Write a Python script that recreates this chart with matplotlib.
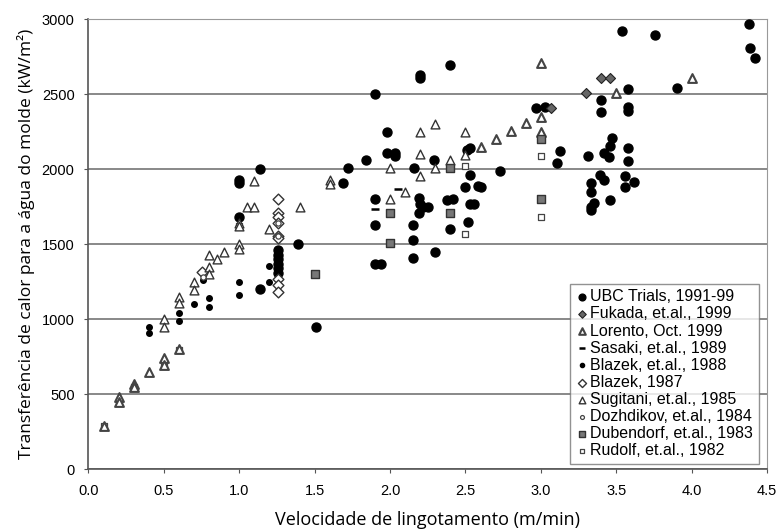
import matplotlib.pyplot as plt

# UBC Trials, 1991-99
ubc_x = [1.0, 1.0, 1.0, 1.14, 1.14, 1.39, 1.51, 1.69, 1.72, 1.84, 1.9, 1.9, 1.9, 1.9, 1.94,
         1.98, 1.98, 2.03, 2.03, 2.15, 2.15, 2.15, 2.16, 2.19, 2.2, 2.22, 2.25, 2.19, 2.2, 2.2,
         2.29, 2.3, 2.38, 2.42, 2.4, 2.4, 2.5, 2.51, 2.53, 2.53, 2.53, 2.56, 2.52, 2.58, 2.6,
         2.73, 2.97, 3.03, 3.11, 3.13, 3.31, 3.33, 3.33, 3.35, 3.33, 3.33, 3.39, 3.42, 3.4, 3.4,
         3.42, 3.45, 3.46, 3.47, 3.46, 3.54, 3.56, 3.56, 3.58, 3.58, 3.58, 3.58, 3.58, 3.62,
         3.76, 3.9, 4.38, 4.39, 4.42,
         1.26, 1.26, 1.26, 1.26, 1.26, 1.26]
ubc_y = [1925, 1905, 1680, 2000, 1200, 1500, 950, 1905, 2005, 2060, 2500, 1800, 1625, 1365, 1370,
         2250, 2105, 2105, 2090, 1625, 1530, 1410, 2010, 1805, 1770, 1750, 1750, 1710, 2630, 2610,
         2060, 1445, 1795, 1800, 1600, 2695, 1880, 2130, 2140, 1960, 1770, 1770, 1645, 1885, 1880,
         1985, 2405, 2415, 2040, 2120, 2090, 1910, 1850, 1775, 1750, 1725, 1960, 1925, 2460, 2380,
         2110, 2080, 2155, 2205, 1795, 2920, 1955, 1880, 2535, 2415, 2390, 2140, 2055, 1915,
         2895, 2540, 2965, 2810, 2740,
         1460, 1430, 1400, 1370, 1340, 1310]

fukada_x = [3.07, 3.3, 3.4, 3.46]
fukada_y = [2410, 2510, 2610, 2610]

lorento_x = [0.1, 0.2, 0.2, 0.3, 0.3, 0.4, 0.5, 0.5, 0.6, 2.6, 2.7, 2.8, 2.9, 3.0, 3.0, 3.0, 3.5, 4.0]
lorento_y = [290, 480, 445, 570, 545, 645, 740, 695, 800, 2145, 2200, 2255, 2310, 2350, 2250, 2710, 2505, 2605]

sasaki_x = [1.9, 2.05]
sasaki_y = [1735, 1870]

blazek88_x = [0.4, 0.4, 0.6, 0.6, 0.7, 0.8, 0.8, 1.0, 1.0, 1.2, 1.2, 0.76]
blazek88_y = [945, 910, 1040, 990, 1100, 1140, 1080, 1250, 1160, 1355, 1250, 1260]

blazek87_x = [0.75, 1.26, 1.26, 1.26, 1.26, 1.26, 1.26, 1.26, 1.26, 1.26]
blazek87_y = [1315, 1800, 1710, 1680, 1640, 1555, 1540, 1270, 1230, 1180]

sugitani_x = [1.1, 1.05, 1.1, 1.2, 1.4, 1.0, 1.0, 1.0, 1.0, 0.9, 0.8, 0.85, 0.8, 0.8, 0.7, 0.7,
              0.6, 0.6, 0.5, 0.5, 1.6, 1.6, 2.0, 2.0, 2.1, 2.2, 2.2, 2.2, 2.3, 2.3, 2.4, 2.5, 2.5]
sugitani_y = [1920, 1745, 1750, 1600, 1750, 1640, 1620, 1500, 1465, 1450, 1430, 1400, 1350, 1300, 1250, 1195,
              1150, 1105, 1000, 950, 1925, 1900, 2005, 1800, 1850, 2250, 2100, 1955, 2300, 2005, 2060, 2250, 2095]

dozhdikov_x = [0.76, 1.26, 1.26]
dozhdikov_y = [1280, 1555, 1640]

dubendorf_x = [1.5, 2.0, 2.0, 2.4, 2.4, 3.0, 3.0]
dubendorf_y = [1300, 1705, 1505, 1705, 2010, 2200, 1800]

rudolf_x = [3.0, 3.0, 2.5, 2.5, 0.1, 0.2, 0.3, 0.5, 0.6, 1.0, 1.6]
rudolf_y = [2089, 1682, 2020, 1570, 285, 450, 550, 700, 795, 1620, 1900]

plt.rcParams['font.family'] = ['Liberation Sans', 'DejaVu Sans']

fig = plt.figure(figsize=(7.79, 5.30), dpi=100)
ax = fig.add_axes([0.1136, 0.115, 0.871, 0.849])

ax.scatter(ubc_x, ubc_y, s=42, marker='o', color='black', zorder=3, label='UBC Trials, 1991-99')
ax.scatter(fukada_x, fukada_y, s=26, marker='D', facecolor='#666666', edgecolor='#222222',
           linewidth=0.8, zorder=3, label='Fukada, et.al., 1999')
ax.scatter(lorento_x, lorento_y, s=40, marker='^', facecolor='white', edgecolor='#444444',
           linewidth=1.5, zorder=3, label='Lorento, Oct. 1999')
ax.scatter(sasaki_x, sasaki_y, s=30, marker='_', color='black', linewidth=1.8, zorder=3,
           label='Sasaki, et.al., 1989')
ax.scatter(blazek88_x, blazek88_y, s=16, marker='o', color='black', zorder=3, label='Blazek, et.al., 1988')
ax.scatter(blazek87_x, blazek87_y, s=30, marker='D', facecolor='white', edgecolor='#333333',
           linewidth=1.0, zorder=3, label='Blazek, 1987')
ax.scatter(sugitani_x, sugitani_y, s=40, marker='^', facecolor='white', edgecolor='#333333',
           linewidth=1.0, zorder=3, label='Sugitani, et.al., 1985')
ax.scatter(dozhdikov_x, dozhdikov_y, s=14, marker='o', facecolor='white', edgecolor='#444444',
           linewidth=0.9, zorder=3, label='Dozhdikov, et.al., 1984')
ax.scatter(dubendorf_x, dubendorf_y, s=34, marker='s', facecolor='#777777', edgecolor='#333333',
           linewidth=1.0, zorder=3, label='Dubendorf, et.al., 1983')
ax.scatter(rudolf_x, rudolf_y, s=16, marker='s', facecolor='white', edgecolor='#444444',
           linewidth=0.9, zorder=2, label='Rudolf, et.al., 1982')

ax.set_xlim(0, 4.5)
ax.set_ylim(0, 3000)
ax.set_xticks([0.0, 0.5, 1.0, 1.5, 2.0, 2.5, 3.0, 3.5, 4.0, 4.5])
ax.set_xticklabels(['0.0', '0.5', '1.0', '1.5', '2.0', '2.5', '3.0', '3.5', '4.0', '4.5'])
ax.set_yticks(range(0, 3001, 500))
ax.yaxis.grid(True, color='#888888', linewidth=1.4)
ax.set_axisbelow(True)
ax.tick_params(labelsize=10.5, length=3, color='#555555')
ax.tick_params(axis='x', pad=8)
ax.tick_params(axis='y', pad=7)

for side in ['top', 'right']:
    ax.spines[side].set_color('#999999')
for side in ['left', 'bottom']:
    ax.spines[side].set_color('#555555')
    ax.spines[side].set_linewidth(1.2)

ax.set_xlabel('Velocidade de lingotamento (m/min)', fontsize=13, family=['Open Sans', 'DejaVu Sans'],
              labelpad=9)
ax.set_ylabel('Transferência de calor para a água do molde (kW/m²)', fontsize=12.5,
              family=['Open Sans', 'DejaVu Sans'], labelpad=5)

leg = ax.legend(loc='lower right', bbox_to_anchor=(0.988, 0.012), fontsize=11.5, frameon=True,
                fancybox=False, handletextpad=0.05, borderpad=0.35, labelspacing=0.13,
                handlelength=0.9, borderaxespad=0, markerscale=0.75)
leg.get_frame().set_edgecolor('#777777')
leg.get_frame().set_linewidth(1.0)

plt.savefig('out.png', dpi=100)
